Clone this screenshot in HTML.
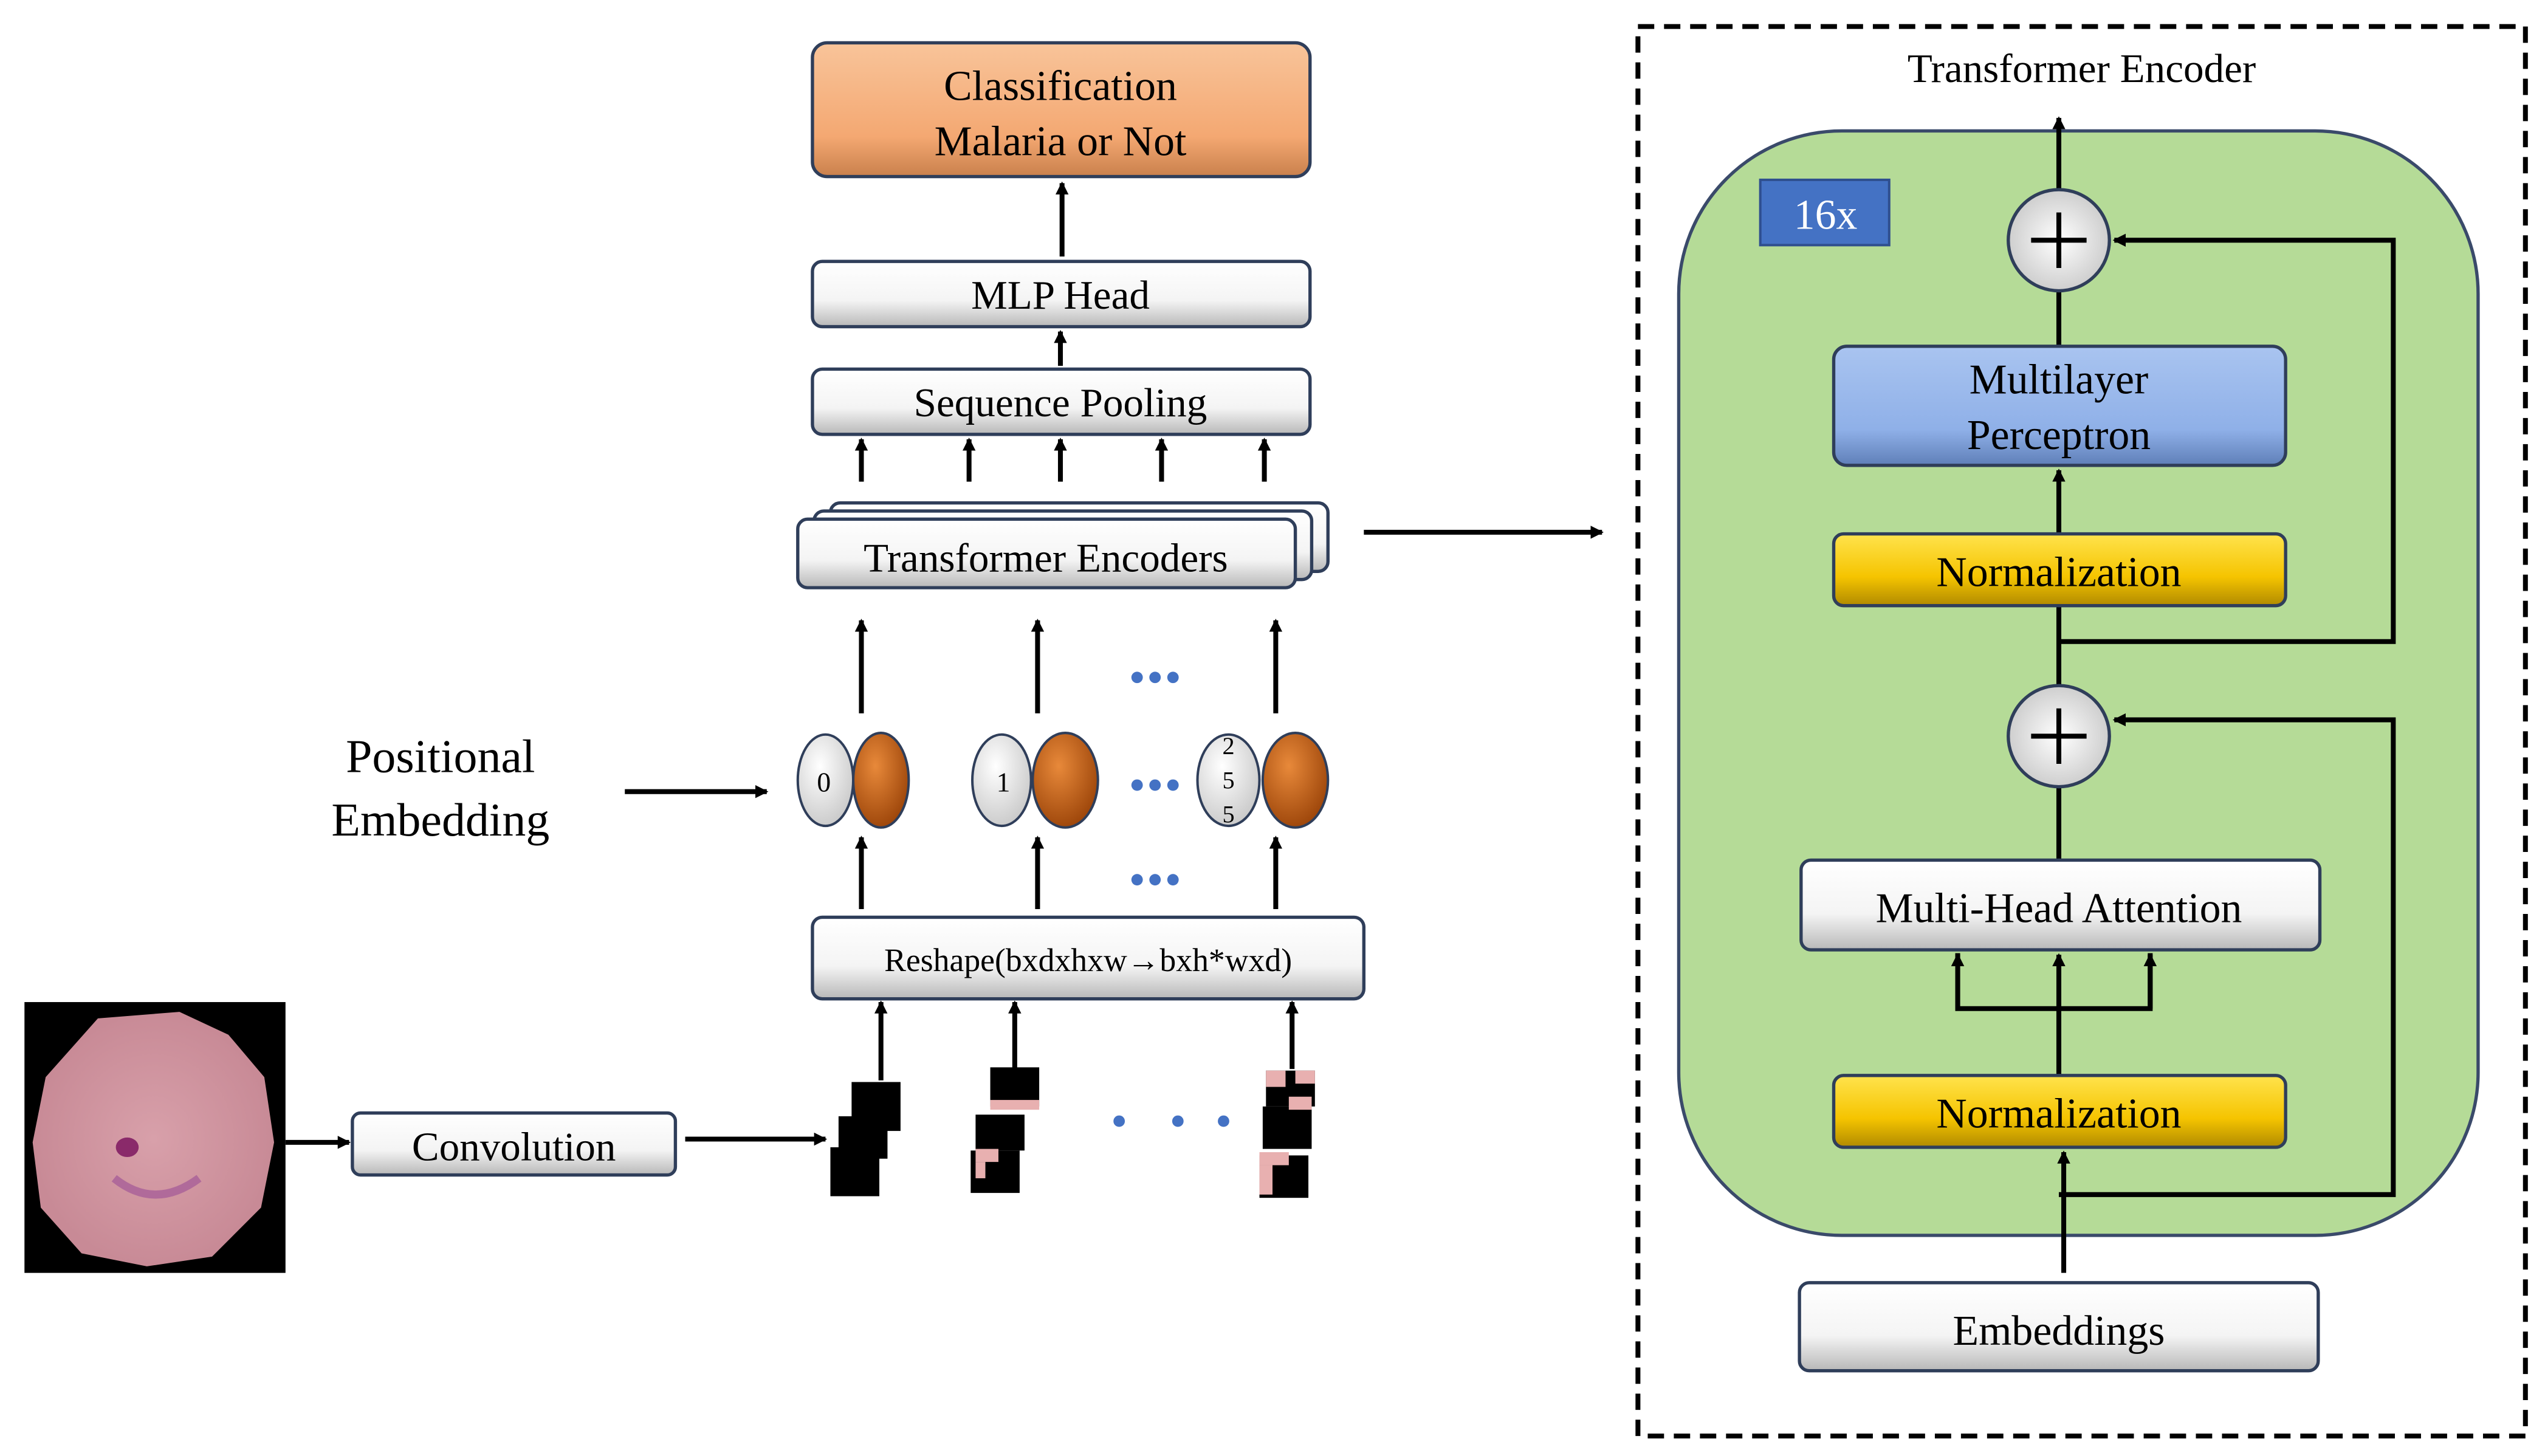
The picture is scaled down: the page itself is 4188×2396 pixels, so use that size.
<!DOCTYPE html>
<html><head><meta charset="utf-8">
<style>
html,body{margin:0;padding:0;background:#fff;}
svg{display:block;}
svg, text{font-family:"Liberation Serif","Times New Roman",serif;}
</style></head>
<body>
<svg width="4188" height="2396" viewBox="0 0 1560 892" xmlns="http://www.w3.org/2000/svg" font-family="Liberation Serif, Times New Roman, serif">
<defs>
<linearGradient id="wg" x1="0" y1="0" x2="0" y2="1">
<stop offset="0" stop-color="#ffffff"/><stop offset="0.6" stop-color="#f4f4f4"/><stop offset="1" stop-color="#b8b8b8"/></linearGradient>
<linearGradient id="og" x1="0" y1="0" x2="0" y2="1">
<stop offset="0" stop-color="#f8c49a"/><stop offset="0.7" stop-color="#f4a872"/><stop offset="1" stop-color="#c9804c"/></linearGradient>
<linearGradient id="bg" x1="0" y1="0" x2="0" y2="1">
<stop offset="0" stop-color="#a9c4f0"/><stop offset="0.7" stop-color="#8fb0e8"/><stop offset="1" stop-color="#5f7fb8"/></linearGradient>
<linearGradient id="yg" x1="0" y1="0" x2="0" y2="1">
<stop offset="0" stop-color="#ffe34d"/><stop offset="0.6" stop-color="#f5c400"/><stop offset="1" stop-color="#b08a00"/></linearGradient>
<radialGradient id="eo" cx="0.4" cy="0.35" r="0.7">
<stop offset="0" stop-color="#e8893a"/><stop offset="1" stop-color="#9a4308"/></radialGradient>
<radialGradient id="ew" cx="0.4" cy="0.35" r="0.7">
<stop offset="0" stop-color="#ffffff"/><stop offset="1" stop-color="#c8c8c8"/></radialGradient>
<radialGradient id="cg" cx="0.5" cy="0.5" r="0.6">
<stop offset="0" stop-color="#ffffff"/><stop offset="1" stop-color="#c4c4c4"/></radialGradient>
<radialGradient id="cell" cx="0.5" cy="0.5" r="0.5">
<stop offset="0" stop-color="#d8a0aa"/><stop offset="1" stop-color="#c88a96"/></radialGradient>
<marker id="ar" markerWidth="8" markerHeight="8" refX="7" refY="4" orient="auto" markerUnits="userSpaceOnUse">
<path d="M0,0 L8,4 L0,8 z" fill="#000"/></marker>
</defs>

<g stroke="#2f3e5a" stroke-width="2">
<rect x="498" y="26" width="305" height="82" rx="9" fill="url(#og)"/>
<rect x="498" y="160" width="305" height="40" rx="6" fill="url(#wg)"/>
<rect x="498" y="226" width="305" height="40" rx="6" fill="url(#wg)"/>
<rect x="509" y="308" width="305" height="42" rx="6" fill="url(#wg)"/>
<rect x="499" y="313" width="305" height="42" rx="6" fill="url(#wg)"/>
<rect x="489" y="318" width="305" height="42" rx="6" fill="url(#wg)"/>
<rect x="498" y="562" width="338" height="50" rx="6" fill="url(#wg)"/>
<rect x="216" y="682" width="198" height="38" rx="5" fill="url(#wg)"/>
</g>
<text x="650" y="61" font-size="26" text-anchor="middle">Classification</text>
<text x="650" y="95" font-size="26" text-anchor="middle">Malaria or Not</text>
<text x="650" y="189" font-size="25" text-anchor="middle">MLP Head</text>
<text x="650" y="255" font-size="25" text-anchor="middle">Sequence Pooling</text>
<text x="641" y="350" font-size="25" text-anchor="middle">Transformer Encoders</text>
<text x="667" y="595" font-size="20" text-anchor="middle">Reshape(bxdxhxw→bxh*wxd)</text>
<text x="315" y="711" font-size="25" text-anchor="middle">Convolution</text>
<text x="270" y="473" font-size="29" text-anchor="middle">Positional</text>
<text x="270" y="512" font-size="29" text-anchor="middle">Embedding</text>

<g stroke="#000" stroke-width="3" marker-end="url(#ar)">
<line x1="651" y1="157" x2="651" y2="112"/>
<line x1="650" y1="224" x2="650" y2="203"/>
<line x1="528" y1="295" x2="528" y2="269"/>
<line x1="594" y1="295" x2="594" y2="269"/>
<line x1="650" y1="295" x2="650" y2="269"/>
<line x1="712" y1="295" x2="712" y2="269"/>
<line x1="775" y1="295" x2="775" y2="269"/>
<line x1="528" y1="437" x2="528" y2="380"/>
<line x1="636" y1="437" x2="636" y2="380"/>
<line x1="782" y1="437" x2="782" y2="380"/>
<line x1="528" y1="557" x2="528" y2="513"/>
<line x1="636" y1="557" x2="636" y2="513"/>
<line x1="782" y1="557" x2="782" y2="513"/>
<line x1="540" y1="662" x2="540" y2="614"/>
<line x1="622" y1="655" x2="622" y2="614"/>
<line x1="792" y1="655" x2="792" y2="614"/>
<line x1="175" y1="700" x2="214" y2="700"/>
<line x1="420" y1="698" x2="506" y2="698"/>
<line x1="383" y1="485" x2="470" y2="485"/>
<line x1="836" y1="326" x2="982" y2="326"/>
</g>

<g fill="#4472c4">
<circle cx="697" cy="415" r="3.5"/><circle cx="708" cy="415" r="3.5"/><circle cx="719" cy="415" r="3.5"/>
<circle cx="697" cy="481" r="3.5"/><circle cx="708" cy="481" r="3.5"/><circle cx="719" cy="481" r="3.5"/>
<circle cx="697" cy="539" r="3.5"/><circle cx="708" cy="539" r="3.5"/><circle cx="719" cy="539" r="3.5"/>
<circle cx="686" cy="687" r="3.5"/><circle cx="722" cy="687" r="3.5"/><circle cx="750" cy="687" r="3.5"/>
</g>

<g stroke="#2f3e5a" stroke-width="1.5">
<ellipse cx="506" cy="478" rx="17" ry="28" fill="url(#ew)"/>
<ellipse cx="540" cy="478" rx="17" ry="29" fill="url(#eo)"/>
<ellipse cx="614" cy="478" rx="18" ry="28" fill="url(#ew)"/>
<ellipse cx="653" cy="478" rx="20" ry="29" fill="url(#eo)"/>
<ellipse cx="753" cy="478" rx="19" ry="28" fill="url(#ew)"/>
<ellipse cx="794" cy="478" rx="20" ry="29" fill="url(#eo)"/>
</g>
<text x="505" y="485" font-size="17" text-anchor="middle">0</text>
<text x="615" y="485" font-size="17" text-anchor="middle">1</text>
<text x="753" y="462" font-size="15" text-anchor="middle">2</text>
<text x="753" y="483" font-size="15" text-anchor="middle">5</text>
<text x="753" y="504" font-size="15" text-anchor="middle">5</text>

<g fill="#000">
<rect x="522" y="663" width="30" height="30"/>
<rect x="514" y="684" width="30" height="26"/>
<rect x="509" y="703" width="30" height="30"/>
<rect x="607" y="654" width="30" height="24"/>
<rect x="598" y="683" width="30" height="22"/>
<rect x="595" y="705" width="30" height="26"/>
<rect x="776" y="656" width="30" height="22"/>
<rect x="774" y="678" width="30" height="26"/>
<rect x="772" y="708" width="30" height="26"/>
</g>
<g fill="#e8b0b0">
<rect x="607" y="674" width="30" height="6"/>
<rect x="598" y="704" width="14" height="8"/>
<rect x="598" y="712" width="6" height="10"/>
<rect x="776" y="656" width="12" height="10"/>
<rect x="794" y="656" width="12" height="8"/>
<rect x="790" y="672" width="14" height="8"/>
<rect x="772" y="706" width="18" height="8"/>
<rect x="772" y="714" width="8" height="18"/>
</g>

<rect x="15" y="614" width="160" height="166" fill="#000"/>
<path d="M60,624 L110,620 L140,634 L162,660 L168,700 L160,740 L130,770 L90,776 L50,768 L25,740 L20,700 L28,660 Z" fill="url(#cell)"/>
<ellipse cx="78" cy="703" rx="7" ry="6" fill="#8a2a6a"/>
<path d="M70,722 Q95,742 122,722" stroke="#b06a9a" stroke-width="5" fill="none"/>

<rect x="1004" y="16" width="544" height="864" fill="none" stroke="#000" stroke-width="3" stroke-dasharray="10,6"/>
<text x="1276" y="50" font-size="25" text-anchor="middle">Transformer Encoder</text>
<rect x="1029" y="80" width="490" height="677" rx="100" fill="#b5db97" stroke="#3a4a6a" stroke-width="2"/>
<rect x="1079" y="110" width="79" height="40" fill="#4472c4" stroke="#2f4f8f" stroke-width="1.5"/>
<text x="1119" y="140" font-size="26" text-anchor="middle" fill="#fff">16x</text>

<g stroke="#000" stroke-width="3" fill="none">
<line x1="1262" y1="116" x2="1262" y2="72" marker-end="url(#ar)"/>
<line x1="1262" y1="212" x2="1262" y2="178"/>
<line x1="1262" y1="327" x2="1262" y2="288" marker-end="url(#ar)"/>
<line x1="1262" y1="420" x2="1262" y2="371"/>
<line x1="1262" y1="527" x2="1262" y2="482"/>
<line x1="1262" y1="659" x2="1262" y2="618"/>
<polyline points="1200,584 1200,618 1318,618 1318,584"/>
<line x1="1200" y1="618" x2="1200" y2="585" marker-end="url(#ar)"/>
<line x1="1262" y1="618" x2="1262" y2="585" marker-end="url(#ar)"/>
<line x1="1318" y1="618" x2="1318" y2="585" marker-end="url(#ar)"/>
<line x1="1265" y1="780" x2="1265" y2="706" marker-end="url(#ar)"/>
<polyline points="1262,732 1467,732 1467,441 1296,441" marker-end="url(#ar)"/>
<polyline points="1262,393 1467,393 1467,147 1296,147" marker-end="url(#ar)"/>
</g>

<g stroke="#2f3e5a" stroke-width="2">
<rect x="1124" y="212" width="277" height="73" rx="8" fill="url(#bg)"/>
<rect x="1124" y="327" width="277" height="44" rx="6" fill="url(#yg)"/>
<rect x="1124" y="659" width="277" height="44" rx="6" fill="url(#yg)"/>
<rect x="1104" y="527" width="318" height="55" rx="6" fill="url(#wg)"/>
<rect x="1103" y="786" width="318" height="54" rx="6" fill="url(#wg)"/>
<circle cx="1262" cy="147" r="31" fill="url(#cg)"/>
<circle cx="1262" cy="451" r="31" fill="url(#cg)"/>
</g>
<g stroke="#000" stroke-width="3">
<line x1="1245" y1="147" x2="1279" y2="147"/><line x1="1262" y1="130" x2="1262" y2="164"/>
<line x1="1245" y1="451" x2="1279" y2="451"/><line x1="1262" y1="434" x2="1262" y2="468"/>
</g>
<text x="1262" y="241" font-size="26" text-anchor="middle">Multilayer</text>
<text x="1262" y="275" font-size="26" text-anchor="middle">Perceptron</text>
<text x="1262" y="359" font-size="26" text-anchor="middle">Normalization</text>
<text x="1262" y="691" font-size="26" text-anchor="middle">Normalization</text>
<text x="1262" y="565" font-size="26" text-anchor="middle">Multi-Head Attention</text>
<text x="1262" y="824" font-size="26" text-anchor="middle">Embeddings</text>
</svg>
</body></html>
